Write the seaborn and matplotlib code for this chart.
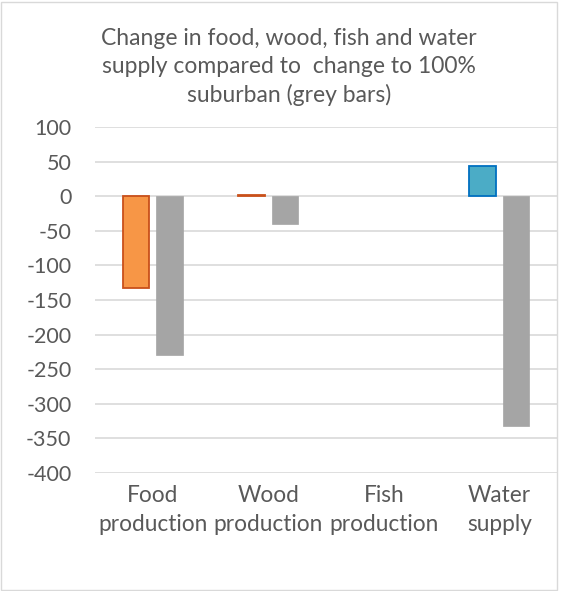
import matplotlib
matplotlib.use("Agg")
import matplotlib.pyplot as plt
import seaborn as sns
import pandas as pd
from matplotlib.patches import Rectangle

categories = ["Food\nproduction", "Wood\nproduction", "Fish\nproduction", "Water\nsupply"]
scenario_values = [-132, 2, 0, 44]
suburban_values = [-230, -40, 0, -332]
series_names = ["Scenario", "100% suburban"]
yticks = list(range(-400, 101, 50))

df = pd.DataFrame({
    "category": categories * 2,
    "value": scenario_values + suburban_values,
    "series": [series_names[0]] * 4 + [series_names[1]] * 4,
})

sns.set_theme(style="white")
plt.rcParams["font.family"] = ["Lato", "DejaVu Sans"]

fig = plt.figure(figsize=(5.63, 5.91), dpi=100)
ax = fig.add_axes([95 / 563, 1 - 473 / 591, 462 / 563, 346 / 591])

sns.barplot(data=df, x="category", y="value", hue="series",
            palette=["#F79646", "#A5A5A5"], width=0.58, gap=0.2,
            legend=False, ax=ax, zorder=3)

fills = ["#F79646", "#F79646", "#F79646", "#4BACC6"]
edges = ["#C9501A", "#C9501A", "#C9501A", "#0070C0"]
for p, fc, ec, v in zip(ax.containers[0], fills, edges, scenario_values):
    p.set_facecolor(fc)
    p.set_edgecolor(ec)
    p.set_linewidth(1.3 if v != 0 else 0)
for p, v in zip(ax.containers[1], suburban_values):
    p.set_facecolor("#A5A5A5")
    p.set_edgecolor("#A5A5A5")
    p.set_linewidth(0.5 if v != 0 else 0)

ax.set_ylim(-400, 100)
ax.set_yticks(yticks)
ax.set_yticklabels([str(t) for t in yticks], fontsize=15.5, color="#595959")
ax.tick_params(axis="x", labelsize=16.3, labelcolor="#595959", length=0, pad=9)
ax.tick_params(axis="y", length=0, pad=17)
for lbl in ax.get_xticklabels():
    lbl.set_linespacing(1.42)
ax.set_xlim(-0.5, 3.5)
ax.yaxis.grid(True, color="#D9D9D9", linewidth=1.2, zorder=0)
ax.set_axisbelow(True)
for s in ax.spines.values():
    s.set_visible(False)
ax.set_xlabel("")
ax.set_ylabel("")

fig.text(0.513, 1 - 67 / 591,
         "Change in food, wood, fish and water\nsupply compared to  change to 100%\nsuburban (grey bars)",
         ha="center", va="center", fontsize=16.5, color="#595959", linespacing=1.42)

fig.patches.append(Rectangle((1 / 563, 1 / 591), 556 / 563, 588 / 591,
                             transform=fig.transFigure, fill=False,
                             edgecolor="#D9D9D9", linewidth=1))

fig.savefig("out.png", dpi=100, facecolor="white")
